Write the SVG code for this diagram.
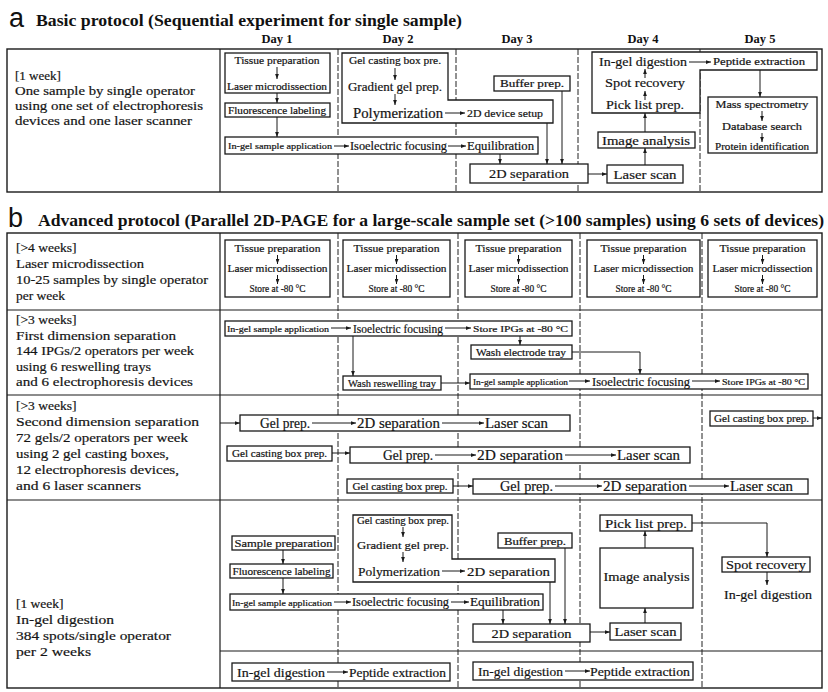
<svg xmlns="http://www.w3.org/2000/svg" width="828" height="692" viewBox="0 0 828 692">
<defs>
<style>
.t{font-family:"Liberation Serif","Times New Roman",serif;fill:#141414;stroke:#141414;stroke-width:0.2}
.m{text-anchor:middle}
.h{font-family:"Liberation Serif","Times New Roman",serif;font-weight:bold;fill:#111}
.L{font-family:"Liberation Sans",Arial,sans-serif;fill:#111}
.b{fill:#fff;stroke:#1a1a1a;stroke-width:1.3}
.c{fill:none;stroke:#1a1a1a;stroke-width:1;marker-end:url(#ah)}
.fr{fill:none;stroke:#1a1a1a;stroke-width:1.4}
.hl{stroke:#1a1a1a;stroke-width:1.2}
.dv{stroke:#222;stroke-width:1;stroke-dasharray:6 2}
</style>
<marker id="ah" viewBox="0 0 8 6" refX="8" refY="3" markerWidth="5" markerHeight="4" orient="auto" markerUnits="userSpaceOnUse"><path d="M0,0 L8,3 L0,6 z" fill="#1a1a1a"/></marker>
</defs>
<rect width="828" height="692" fill="#fff"/>

<!-- ===== Section a frame ===== -->
<g id="section-a">
<text class="L" x="9" y="27" font-size="27">a</text>
<text class="h" x="36" y="26" font-size="16" textLength="426" lengthAdjust="spacingAndGlyphs">Basic protocol (Sequential experiment for single sample)</text>
<text class="h m" x="277" y="43" font-size="12.5">Day 1</text>
<text class="h m" x="398" y="43" font-size="12.5">Day 2</text>
<text class="h m" x="517" y="43" font-size="12.5">Day 3</text>
<text class="h m" x="643" y="43" font-size="12.5">Day 4</text>
<text class="h m" x="760" y="43" font-size="12.5">Day 5</text>
<rect class="fr" x="7" y="49" width="815" height="143"/>
<line class="hl" x1="220" y1="49" x2="220" y2="192"/>
<line class="dv" x1="338" y1="49" x2="338" y2="192"/>
<line class="dv" x1="456" y1="49" x2="456" y2="192"/>
<line class="dv" x1="578" y1="49" x2="578" y2="192"/>
<line class="dv" x1="700" y1="49" x2="700" y2="192"/>
<g id="a-info" class="t" font-size="13">
<text x="15" y="80">[1 week]</text>
<text x="15" y="95" textLength="180" lengthAdjust="spacingAndGlyphs">One sample by single operator</text>
<text x="15" y="110" textLength="188" lengthAdjust="spacingAndGlyphs">using one set of electrophoresis</text>
<text x="15" y="125" textLength="177" lengthAdjust="spacingAndGlyphs">devices and one laser scanner</text>
</g>
</g>

<!-- ===== Section b frame ===== -->
<g id="section-b">
<text class="L" x="8" y="227" font-size="27">b</text>
<text class="h" x="38" y="226" font-size="16" textLength="786" lengthAdjust="spacingAndGlyphs">Advanced protocol (Parallel 2D-PAGE for a large-scale sample set (&gt;100 samples) using 6 sets of devices)</text>
<rect class="fr" x="7" y="233" width="815" height="455"/>
<line class="hl" x1="220" y1="233" x2="220" y2="688"/>
<line class="hl" x1="7" y1="310" x2="822" y2="310"/>
<line class="hl" x1="7" y1="395" x2="822" y2="395"/>
<line class="hl" x1="7" y1="500" x2="822" y2="500"/>
<line class="hl" x1="220" y1="651" x2="822" y2="651"/>
<line class="dv" x1="338" y1="233" x2="338" y2="688"/>
<line class="dv" x1="458" y1="233" x2="458" y2="688"/>
<line class="dv" x1="580" y1="233" x2="580" y2="688"/>
<line class="dv" x1="702" y1="233" x2="702" y2="688"/>
<g id="b-info" class="t" font-size="13.5">
<text x="16" y="252">[&gt;4 weeks]</text>
<text x="16" y="268" textLength="128" lengthAdjust="spacingAndGlyphs">Laser microdissection</text>
<text x="16" y="284" textLength="192" lengthAdjust="spacingAndGlyphs">10-25 samples by single operator</text>
<text x="16" y="300">per week</text>
<text x="16" y="324">[&gt;3 weeks]</text>
<text x="16" y="339.5" textLength="160" lengthAdjust="spacingAndGlyphs">First dimension separation</text>
<text x="16" y="355" textLength="178" lengthAdjust="spacingAndGlyphs">144 IPGs/2 operators per week</text>
<text x="16" y="370.5" textLength="135" lengthAdjust="spacingAndGlyphs">using 6 reswelling trays</text>
<text x="16" y="386" textLength="177" lengthAdjust="spacingAndGlyphs">and 6 electrophoresis devices</text>
<text x="16" y="410">[&gt;3 weeks]</text>
<text x="16" y="426" textLength="183" lengthAdjust="spacingAndGlyphs">Second dimension separation</text>
<text x="16" y="442" textLength="172" lengthAdjust="spacingAndGlyphs">72 gels/2 operators per week</text>
<text x="16" y="458" textLength="153" lengthAdjust="spacingAndGlyphs">using 2 gel casting boxes,</text>
<text x="16" y="474" textLength="163" lengthAdjust="spacingAndGlyphs">12 electrophoresis devices,</text>
<text x="16" y="490" textLength="125" lengthAdjust="spacingAndGlyphs">and 6 laser scanners</text>
<text x="16" y="608">[1 week]</text>
<text x="16" y="624" textLength="98" lengthAdjust="spacingAndGlyphs">In-gel digestion</text>
<text x="16" y="640" textLength="155" lengthAdjust="spacingAndGlyphs">384 spots/single operator</text>
<text x="16" y="656" textLength="75" lengthAdjust="spacingAndGlyphs">per 2 weeks</text>
</g>
</g>

<!-- ===== Section a nodes ===== -->
<g id="a-tissue"><rect class="b" x="225" y="53" width="105" height="40"/>
<text class="t m" x="277" y="64" font-size="10" textLength="85" lengthAdjust="spacingAndGlyphs">Tissue preparation</text>
<text class="t m" x="277" y="90" font-size="10" textLength="100" lengthAdjust="spacingAndGlyphs">Laser microdissection</text></g>
<g id="a-fluor"><rect class="b" x="225" y="103" width="105" height="14"/>
<text class="t m" x="277" y="114" font-size="10" textLength="98" lengthAdjust="spacingAndGlyphs">Fluorescence labeling</text></g>
<g id="a-gelcast"><polygon class="b" points="342,53 448,53 448,100 553,100 553,123 342,123"/>
<text class="t m" x="395" y="64" font-size="10" textLength="92" lengthAdjust="spacingAndGlyphs">Gel casting box pre.</text>
<text class="t m" x="395" y="91" font-size="12" textLength="94" lengthAdjust="spacingAndGlyphs">Gradient gel prep.</text>
<text class="t" x="353" y="118" font-size="14" textLength="90" lengthAdjust="spacingAndGlyphs">Polymerization</text>
<text class="t" x="467" y="117" font-size="11" textLength="76" lengthAdjust="spacingAndGlyphs">2D device setup</text></g>
<g id="a-buffer"><rect class="b" x="494" y="76" width="76" height="15"/>
<text class="t m" x="532" y="87" font-size="10" textLength="64" lengthAdjust="spacingAndGlyphs">Buffer prep.</text></g>
<g id="a-ingel"><rect class="b" x="225" y="137" width="313" height="17"/>
<text class="t" x="228" y="149" font-size="8.5" textLength="104" lengthAdjust="spacingAndGlyphs">In-gel sample application</text>
<text class="t" x="350" y="150" font-size="11.5" textLength="97" lengthAdjust="spacingAndGlyphs">Isoelectric focusing</text>
<text class="t" x="467" y="150" font-size="11.5" textLength="67" lengthAdjust="spacingAndGlyphs">Equilibration</text></g>
<g id="a-2dsep"><rect class="b" x="470" y="164" width="118" height="19"/>
<text class="t m" x="529" y="178" font-size="13" textLength="80" lengthAdjust="spacingAndGlyphs">2D separation</text></g>
<g id="a-laser"><rect class="b" x="607" y="165" width="76" height="18"/>
<text class="t m" x="645" y="179" font-size="13" textLength="63" lengthAdjust="spacingAndGlyphs">Laser scan</text></g>
<g id="a-image"><rect class="b" x="598" y="132" width="97" height="16"/>
<text class="t m" x="646" y="144.5" font-size="13" textLength="88" lengthAdjust="spacingAndGlyphs">Image analysis</text></g>
<g id="a-day4"><polygon class="b" points="592,52 817,52 817,70 700,70 700,113 592,113"/>
<text class="t m" x="643" y="66" font-size="13" textLength="88" lengthAdjust="spacingAndGlyphs">In-gel digestion</text>
<text class="t m" x="759" y="65" font-size="10" textLength="92" lengthAdjust="spacingAndGlyphs">Peptide extraction</text>
<text class="t m" x="645" y="87" font-size="13" textLength="80" lengthAdjust="spacingAndGlyphs">Spot recovery</text>
<text class="t m" x="645" y="109" font-size="13" textLength="78" lengthAdjust="spacingAndGlyphs">Pick list prep.</text></g>
<g id="a-ms"><rect class="b" x="708" y="97" width="109" height="56"/>
<text class="t m" x="762" y="108" font-size="10" textLength="93" lengthAdjust="spacingAndGlyphs">Mass spectrometry</text>
<text class="t m" x="762" y="130" font-size="10" textLength="80" lengthAdjust="spacingAndGlyphs">Database search</text>
<text class="t m" x="762" y="150" font-size="9.5" textLength="94" lengthAdjust="spacingAndGlyphs">Protein identification</text></g>

<!-- ===== Section b nodes: row 1 ===== -->
<g id="b-tissue1"><rect class="b" x="225" y="240" width="105" height="57"/>
<text class="t m" x="277.5" y="252" font-size="10" textLength="86" lengthAdjust="spacingAndGlyphs">Tissue preparation</text>
<text class="t m" x="277.5" y="272" font-size="10" textLength="100" lengthAdjust="spacingAndGlyphs">Laser microdissection</text>
<text class="t m" x="277.5" y="292" font-size="9.5" textLength="56" lengthAdjust="spacingAndGlyphs">Store at -80 °C</text></g>
<g id="b-tissue2"><rect class="b" x="343" y="240" width="107" height="57"/>
<text class="t m" x="396.5" y="252" font-size="10" textLength="86" lengthAdjust="spacingAndGlyphs">Tissue preparation</text>
<text class="t m" x="396.5" y="272" font-size="10" textLength="100" lengthAdjust="spacingAndGlyphs">Laser microdissection</text>
<text class="t m" x="396.5" y="292" font-size="9.5" textLength="56" lengthAdjust="spacingAndGlyphs">Store at -80 °C</text></g>
<g id="b-tissue3"><rect class="b" x="465" y="240" width="107" height="57"/>
<text class="t m" x="518.5" y="252" font-size="10" textLength="86" lengthAdjust="spacingAndGlyphs">Tissue preparation</text>
<text class="t m" x="518.5" y="272" font-size="10" textLength="100" lengthAdjust="spacingAndGlyphs">Laser microdissection</text>
<text class="t m" x="518.5" y="292" font-size="9.5" textLength="56" lengthAdjust="spacingAndGlyphs">Store at -80 °C</text></g>
<g id="b-tissue4"><rect class="b" x="587" y="240" width="113" height="57"/>
<text class="t m" x="643.5" y="252" font-size="10" textLength="86" lengthAdjust="spacingAndGlyphs">Tissue preparation</text>
<text class="t m" x="643.5" y="272" font-size="10" textLength="100" lengthAdjust="spacingAndGlyphs">Laser microdissection</text>
<text class="t m" x="643.5" y="292" font-size="9.5" textLength="56" lengthAdjust="spacingAndGlyphs">Store at -80 °C</text></g>
<g id="b-tissue5"><rect class="b" x="708" y="240" width="109" height="57"/>
<text class="t m" x="762.5" y="252" font-size="10" textLength="86" lengthAdjust="spacingAndGlyphs">Tissue preparation</text>
<text class="t m" x="762.5" y="272" font-size="10" textLength="100" lengthAdjust="spacingAndGlyphs">Laser microdissection</text>
<text class="t m" x="762.5" y="292" font-size="9.5" textLength="56" lengthAdjust="spacingAndGlyphs">Store at -80 °C</text></g>

<!-- row 2 -->
<g id="b-ingel1"><rect class="b" x="225" y="321" width="347" height="15"/>
<text class="t" x="227" y="332" font-size="8" textLength="102" lengthAdjust="spacingAndGlyphs">In-gel sample application</text>
<text class="t" x="353" y="332.5" font-size="12" textLength="90" lengthAdjust="spacingAndGlyphs">Isoelectric focusing</text>
<text class="t" x="473" y="332" font-size="9" textLength="95" lengthAdjust="spacingAndGlyphs">Store IPGs at -80 °C</text></g>
<g id="b-washelec"><rect class="b" x="471" y="345" width="101" height="14"/>
<text class="t m" x="521" y="356" font-size="10" textLength="90" lengthAdjust="spacingAndGlyphs">Wash electrode tray</text></g>
<g id="b-washres"><rect class="b" x="343" y="376" width="98" height="14"/>
<text class="t m" x="392" y="387" font-size="9.5" textLength="88" lengthAdjust="spacingAndGlyphs">Wash reswelling tray</text></g>
<g id="b-ingel2"><rect class="b" x="470" y="374" width="338" height="15"/>
<text class="t" x="473" y="385" font-size="8.5" textLength="95" lengthAdjust="spacingAndGlyphs">In-gel sample application</text>
<text class="t" x="592" y="385.5" font-size="12" textLength="98" lengthAdjust="spacingAndGlyphs">Isoelectric focusing</text>
<text class="t" x="722" y="385" font-size="9" textLength="83" lengthAdjust="spacingAndGlyphs">Store IPGs at -80 °C</text></g>

<!-- row 3 -->
<g id="b-gel1"><rect class="b" x="240" y="415" width="330" height="16"/>
<text class="t m" x="285" y="427.5" font-size="14" textLength="50" lengthAdjust="spacingAndGlyphs">Gel prep.</text>
<text class="t m" x="398.5" y="427.5" font-size="14" textLength="83" lengthAdjust="spacingAndGlyphs">2D separation</text>
<text class="t m" x="516.5" y="427.5" font-size="14" textLength="63" lengthAdjust="spacingAndGlyphs">Laser scan</text></g>
<g id="b-gc1"><rect class="b" x="227" y="446" width="105" height="15"/>
<text class="t m" x="279.5" y="457" font-size="9.5" textLength="95" lengthAdjust="spacingAndGlyphs">Gel casting box prep.</text></g>
<g id="b-gel2"><rect class="b" x="350" y="447" width="340" height="16"/>
<text class="t m" x="408" y="459.5" font-size="14" textLength="50" lengthAdjust="spacingAndGlyphs">Gel prep.</text>
<text class="t m" x="520" y="459.5" font-size="14" textLength="86" lengthAdjust="spacingAndGlyphs">2D separation</text>
<text class="t m" x="648.5" y="459.5" font-size="14" textLength="63" lengthAdjust="spacingAndGlyphs">Laser scan</text></g>
<g id="b-gc2"><rect class="b" x="347" y="479" width="106" height="14"/>
<text class="t m" x="400" y="490" font-size="9.5" textLength="95" lengthAdjust="spacingAndGlyphs">Gel casting box prep.</text></g>
<g id="b-gel3"><rect class="b" x="473" y="479" width="335" height="15"/>
<text class="t m" x="526.5" y="491" font-size="14" textLength="53" lengthAdjust="spacingAndGlyphs">Gel prep.</text>
<text class="t m" x="645" y="491" font-size="14" textLength="84" lengthAdjust="spacingAndGlyphs">2D separation</text>
<text class="t m" x="761.5" y="491" font-size="14" textLength="63" lengthAdjust="spacingAndGlyphs">Laser scan</text></g>
<g id="b-gc3"><rect class="b" x="710" y="411" width="103" height="15"/>
<text class="t m" x="761.5" y="422" font-size="9.5" textLength="95" lengthAdjust="spacingAndGlyphs">Gel casting box prep.</text></g>

<!-- row 4 -->
<g id="b-sample"><rect class="b" x="232" y="536" width="103" height="14"/>
<text class="t m" x="283.5" y="547" font-size="11" textLength="98" lengthAdjust="spacingAndGlyphs">Sample preparation</text></g>
<g id="b-fluor"><rect class="b" x="230" y="564" width="103" height="14"/>
<text class="t m" x="281.5" y="575" font-size="10" textLength="98" lengthAdjust="spacingAndGlyphs">Fluorescence labeling</text></g>
<g id="b-ingel3"><rect class="b" x="230" y="594" width="313" height="16"/>
<text class="t" x="232" y="605.5" font-size="8" textLength="100" lengthAdjust="spacingAndGlyphs">In-gel sample application</text>
<text class="t" x="352" y="606" font-size="11.5" textLength="97" lengthAdjust="spacingAndGlyphs">Isoelectric focusing</text>
<text class="t" x="470" y="606" font-size="11.5" textLength="70" lengthAdjust="spacingAndGlyphs">Equilibration</text></g>
<g id="b-gelcast"><polygon class="b" points="353,515 452,515 452,559 555,559 555,582 353,582"/>
<text class="t m" x="403" y="524" font-size="9.5" textLength="92" lengthAdjust="spacingAndGlyphs">Gel casting box prep.</text>
<text class="t m" x="403" y="549" font-size="11" textLength="92" lengthAdjust="spacingAndGlyphs">Gradient gel prep.</text>
<text class="t" x="358" y="576" font-size="13" textLength="82" lengthAdjust="spacingAndGlyphs">Polymerization</text>
<text class="t" x="467" y="576" font-size="13" textLength="83" lengthAdjust="spacingAndGlyphs">2D separation</text></g>
<g id="b-buffer"><rect class="b" x="498" y="533" width="74" height="15"/>
<text class="t m" x="535" y="544.5" font-size="10" textLength="62" lengthAdjust="spacingAndGlyphs">Buffer prep.</text></g>
<g id="b-2dsep"><rect class="b" x="473" y="624" width="117" height="18"/>
<text class="t m" x="531.5" y="637.5" font-size="13" textLength="80" lengthAdjust="spacingAndGlyphs">2D separation</text></g>
<g id="b-laser"><rect class="b" x="610" y="623" width="71" height="17"/>
<text class="t m" x="645.5" y="636" font-size="13" textLength="62" lengthAdjust="spacingAndGlyphs">Laser scan</text></g>
<g id="b-image"><rect class="b" x="600" y="548" width="93" height="60"/>
<text class="t m" x="646.5" y="581" font-size="12" textLength="86" lengthAdjust="spacingAndGlyphs">Image analysis</text></g>
<g id="b-pick"><rect class="b" x="600" y="515" width="92" height="16"/>
<text class="t m" x="646" y="527.5" font-size="13" textLength="82" lengthAdjust="spacingAndGlyphs">Pick list prep.</text></g>
<g id="b-spot"><rect class="b" x="722" y="557" width="88" height="15"/>
<text class="t m" x="766" y="569" font-size="13" textLength="80" lengthAdjust="spacingAndGlyphs">Spot recovery</text></g>
<g id="b-ingeldig"><text class="t m" x="768" y="599" font-size="13" textLength="88" lengthAdjust="spacingAndGlyphs">In-gel digestion</text></g>
<g id="b-dig1"><rect class="b" x="232" y="663" width="218" height="18"/>
<text class="t" x="237" y="676.5" font-size="13" textLength="88" lengthAdjust="spacingAndGlyphs">In-gel digestion</text>
<text class="t" x="349" y="676.5" font-size="12" textLength="97" lengthAdjust="spacingAndGlyphs">Peptide extraction</text></g>
<g id="b-dig2"><rect class="b" x="473" y="662" width="220" height="18"/>
<text class="t" x="478" y="675.5" font-size="13" textLength="85" lengthAdjust="spacingAndGlyphs">In-gel digestion</text>
<text class="t" x="590" y="675.5" font-size="12" textLength="100" lengthAdjust="spacingAndGlyphs">Peptide extraction</text></g>

<!-- ===== Connectors ===== -->
<g id="connectors">
<!-- section a -->
<path class="c" d="M277,67 V79"/>
<path class="c" d="M277,93 V103"/>
<path class="c" d="M277,117 V137"/>
<path class="c" d="M395,68 V80"/>
<path class="c" d="M395,94 V105"/>
<path class="c" d="M445,113 H465"/>
<path class="c" d="M334,146 H349"/>
<path class="c" d="M448,146 H466"/>
<path class="c" d="M500,154 V164"/>
<path class="c" d="M547,123 V164"/>
<path class="c" d="M562,91 V164"/>
<path class="c" d="M588,174 H607"/>
<path class="c" d="M645,165 V148"/>
<path class="c" d="M645,132 V113"/>
<path class="c" d="M645,100 V91"/>
<path class="c" d="M645,78 V69"/>
<path class="c" d="M689,62 H711"/>
<path class="c" d="M760,70 V97"/>
<path class="c" d="M762,111 V121"/>
<path class="c" d="M762,133 V142"/>
<!-- section b row 1 -->
<path class="c" d="M277.5,255 V264"/><path class="c" d="M277.5,275 V284"/>
<path class="c" d="M396.5,255 V264"/><path class="c" d="M396.5,275 V284"/>
<path class="c" d="M518.5,255 V264"/><path class="c" d="M518.5,275 V284"/>
<path class="c" d="M643.5,255 V264"/><path class="c" d="M643.5,275 V284"/>
<path class="c" d="M762.5,255 V264"/><path class="c" d="M762.5,275 V284"/>
<!-- row 2 -->
<path class="c" d="M331,328 H351"/>
<path class="c" d="M445,328 H471"/>
<path class="c" d="M353,336 V376"/>
<path class="c" d="M520,336 V345"/>
<path class="c" d="M572,352 H640 V374"/>
<path class="c" d="M441,383 H470"/>
<path class="c" d="M569,381 H590"/>
<path class="c" d="M692,381 H720"/>
<!-- row 3 -->
<path class="c" d="M220,423 H240"/>
<path class="c" d="M312,423 H356"/>
<path class="c" d="M442,423 H484"/>
<path class="c" d="M332,453 H350"/>
<path class="c" d="M435,455 H476"/>
<path class="c" d="M565,455 H616"/>
<path class="c" d="M453,486 H473"/>
<path class="c" d="M555,486 H602"/>
<path class="c" d="M689,486 H729"/>
<path class="c" d="M813,418 H822"/>
<!-- row 4 -->
<path class="c" d="M283,550 V564"/>
<path class="c" d="M283,578 V594"/>
<path class="c" d="M403,527 V537"/>
<path class="c" d="M403,552 V562"/>
<path class="c" d="M442,571 H465"/>
<path class="c" d="M334,602 H351"/>
<path class="c" d="M451,602 H469"/>
<path class="c" d="M503,610 V624"/>
<path class="c" d="M550,582 V624"/>
<path class="c" d="M565,548 V624"/>
<path class="c" d="M590,632 H610"/>
<path class="c" d="M645,623 V608"/>
<path class="c" d="M645,548 V531"/>
<path class="c" d="M692,523 H767 V557"/>
<path class="c" d="M767,572 V585"/>
<path class="c" d="M327,672 H348"/>
<path class="c" d="M565,671 H590"/>
</g>
</svg>
